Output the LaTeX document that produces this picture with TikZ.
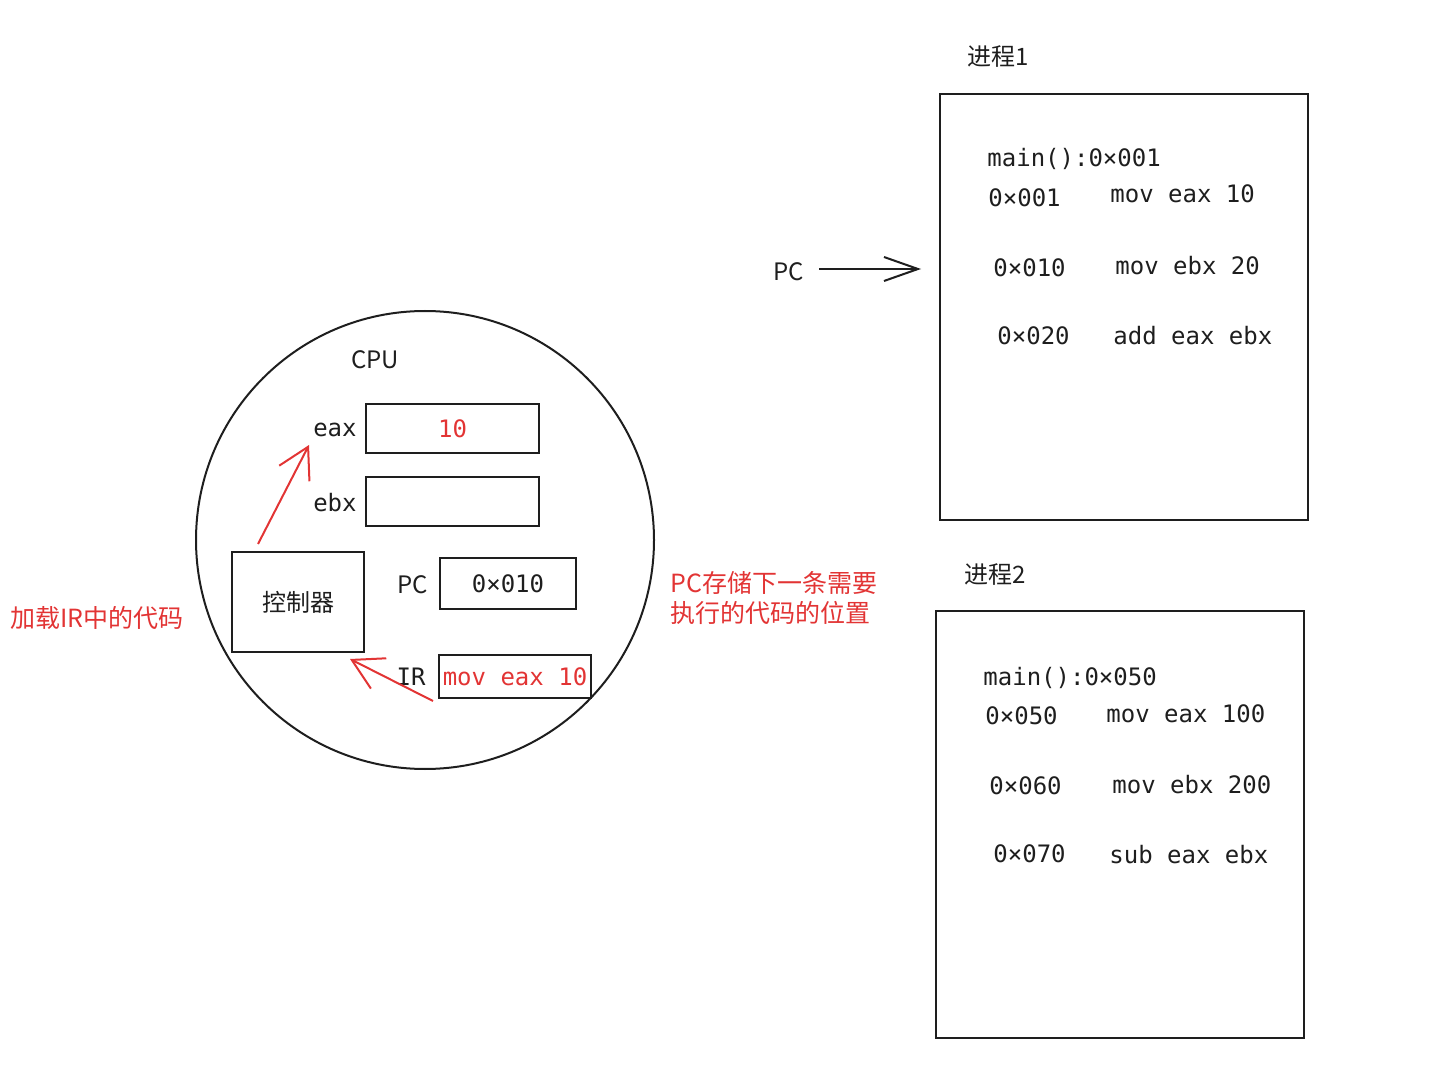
\documentclass[tikz,border=0pt]{standalone}
\usepackage{fontspec}
\setmainfont{Noto Sans CJK SC}
\setmonofont{DejaVu Sans Mono}
\usetikzlibrary{arrows.meta,positioning}
\definecolor{notered}{RGB}{226,52,52}
\definecolor{ink}{RGB}{30,30,30}

\begin{document}
\begin{tikzpicture}[
  x=0.5pt, y=-0.5pt,
  color=ink,
  font=\fontsize{12}{14}\selectfont,
  box/.style={draw, line width=1pt, minimum width=#1, inner sep=0pt},
  reg/.style={draw, line width=1pt, inner sep=0pt, minimum width=86.5pt, minimum height=24.5pt, font=\fontsize{12}{14}\selectfont\ttfamily},
  code/.style={anchor=base west, inner sep=0pt, font=\fontsize{12}{14}\selectfont\ttfamily},
  note/.style={text=notered, font=\fontsize{12.5}{14.5}\selectfont},
  redarrow/.style={draw=notered, line width=1pt, -{Straight Barb[length=15pt, width=17pt, line width=1pt]}},
  blackarrow/.style={draw, line width=1pt, -{Straight Barb[length=17pt, width=12pt, line width=1pt]}}
]
\useasboundingbox (0,0) rectangle (1430,1085);

\node[circle, draw, line width=1pt, minimum size=229pt, inner sep=0pt] (cpu) at (425,540) {};
\node (cpulabel) at (375,360) {CPU};

\node[reg, text=notered] (eax) at (452.5,428.5) {10};
\node[code, anchor=east] (eaxlabel) at (357,430) {eax};
\node[reg] (ebx) at (452.5,502) {};
\node[code, anchor=east] (ebxlabel) at (357,503) {ebx};
\node[reg, minimum width=68pt, minimum height=25.5pt] (pc) at (508,583.5) {0×010};
\node (pclabel) at (413,585) {PC};
\node[reg, minimum width=76pt, minimum height=21.5pt, text=notered] (ir) at (515,676.5) {mov eax 10};
\node[code, anchor=center] (irlabel) at (411,677) {IR};
\node[box=66pt, minimum height=50pt] (ctrl) at (298,602) {控制器};

\node[note] (loadnote) at (97,618) {加载IR中的代码};
\node[note, align=left, anchor=north west, inner sep=0pt] (pcnote) at (670,571) {PC存储下一条需要\\[0.5pt]执行的代码的位置};

\coordinate (irtail) at (433,701);
\draw[redarrow] ([xshift=13.5pt,yshift=3.5pt]ctrl.north west) -- (309,445);
\draw[redarrow] (irtail) -- ([xshift=-7.5pt,yshift=-3pt]ctrl.south east);

\node[box=184pt, minimum height=213pt] (proc1) at (1124,307) {};
\node (proc1label) at (998,57) {进程1};
\node[code] (m1) at (987,167) {main():0×001};
\node[code] (a11) at (988,207) {0×001};
\node[code] (c11) at (1110,203) {mov eax 10};
\node[code] (a12) at (993,277) {0×010};
\node[code] (c12) at (1115,275) {mov ebx 20};
\node[code] (a13) at (997,345) {0×020};
\node[code] (c13) at (1113,345) {add eax ebx};

\node (pcptr) at (789,272) {PC};
\draw[blackarrow] ([xshift=4pt,yshift=1.5pt]pcptr.east) -- ([xshift=-9pt,yshift=1.5pt]proc1.west |- pcptr.east);

\node[box=184pt, minimum height=213.5pt] (proc2) at (1120,824.5) {};
\node (proc2label) at (995,575) {进程2};
\node[code] (m2) at (983,685) {main():0×050};
\node[code] (a21) at (985,724) {0×050};
\node[code] (c21) at (1106,722) {mov eax 100};
\node[code] (a22) at (989,794) {0×060};
\node[code] (c22) at (1112,793) {mov ebx 200};
\node[code] (a23) at (993,862) {0×070};
\node[code] (c23) at (1109,863) {sub eax ebx};

\end{tikzpicture}
\end{document}
